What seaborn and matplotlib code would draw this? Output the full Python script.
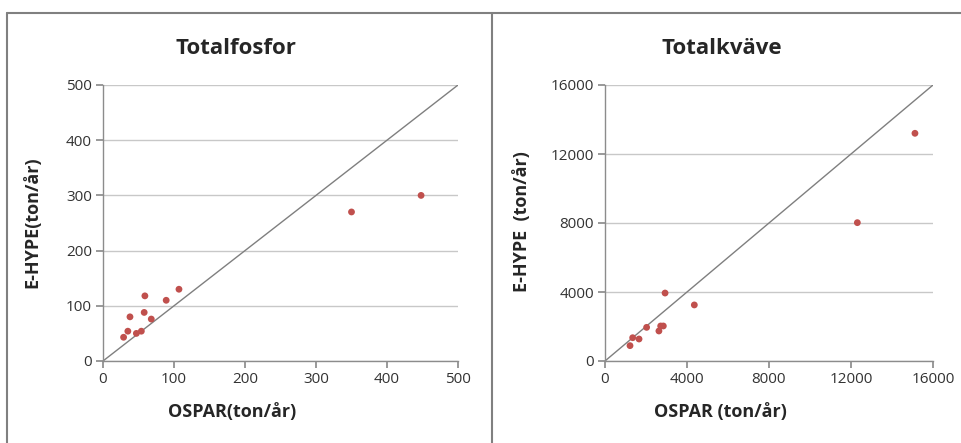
import numpy as np
import pandas as pd
import seaborn as sns
import matplotlib.pyplot as plt
from matplotlib.lines import Line2D

# Totalfosfor (ton/år)
p_ospar = [29, 35, 38, 47, 54, 59, 58, 68, 89, 107, 350, 448]
p_ehype = [43, 54, 80, 50, 54, 118, 88, 76, 110, 130, 270, 300]

# Totalkväve (ton/år)
n_ospar = [1220, 1350, 1660, 2030, 2630, 2716, 2845, 2930, 4357, 12310, 15120]
n_ehype = [890, 1350, 1275, 1950, 1740, 2030, 2030, 3940, 3250, 8020, 13200]

p_ticks = [0, 100, 200, 300, 400, 500]
n_ticks = [0, 4000, 8000, 12000, 16000]

sns.set_theme(style="white")
plt.rcParams['font.family'] = ['Open Sans', 'DejaVu Sans']

fig = plt.figure(figsize=(9.62, 4.43), dpi=100)

# panel frames: top edge, left edge, divider
W, H = 962, 443
for (xa, ya), (xb, yb) in [((7, 13), (962, 13)), ((7, 13), (7, 443)), ((492, 13), (492, 443))]:
    fig.add_artist(Line2D([xa / W, xb / W], [1 - ya / H, 1 - yb / H],
                          transform=fig.transFigure, color='#808080', lw=1.5))

ax1 = fig.add_axes([103 / W, 82 / H, 355 / W, 276 / H])
ax2 = fig.add_axes([605 / W, 82 / H, 328 / W, 276 / H])

panels = [
    (ax1, p_ospar, p_ehype, p_ticks, 'Totalfosfor', 'OSPAR(ton/år)', 'E-HYPE(ton/år)', 236, 32, 232),
    (ax2, n_ospar, n_ehype, n_ticks, 'Totalkväve', 'OSPAR (ton/år)', 'E-HYPE  (ton/år)', 722, 522, 720),
]

for ax, xs, ys, ticks, title, xl, yl, tx, ylx, xlx in panels:
    df = pd.DataFrame({'x': xs, 'y': ys})
    lim = ticks[-1]
    ax.plot([0, lim], [0, lim], color='#7f7f7f', lw=1, zorder=2)
    sns.scatterplot(data=df, x='x', y='y', ax=ax, color='#c0504d', s=24,
                    edgecolor='none', zorder=3)
    ax.set_xlim(0, lim)
    ax.set_ylim(0, lim)
    ax.set_xticks(ticks)
    ax.set_yticks(ticks)
    ax.yaxis.grid(True, color='#c8c8c8', lw=1)
    ax.set_axisbelow(True)
    for s in ['top', 'right']:
        ax.spines[s].set_visible(False)
    for s in ['left', 'bottom']:
        ax.spines[s].set_color('#8c8c8c')
        ax.spines[s].set_linewidth(1)
    ax.tick_params(axis='x', bottom=True, length=5, color='#8c8c8c',
                   labelsize=11, pad=3, labelcolor='#333333')
    ax.tick_params(axis='y', left=True, length=5, color='#8c8c8c',
                   labelsize=11, pad=3, labelcolor='#333333')
    ax.set_xlabel('')
    ax.set_ylabel('')
    fig.text(tx / W, 1 - 48 / H, title, ha='center', va='center',
             fontsize=16, fontweight='bold')
    fig.text(xlx / W, 1 - 412 / H, xl, ha='center', va='center',
             fontsize=13, fontweight='bold')
    fig.text(ylx / W, 1 - 222 / H, yl, ha='center', va='center',
             fontsize=13, fontweight='bold', rotation=90)

fig.savefig('out.png', dpi=100)
